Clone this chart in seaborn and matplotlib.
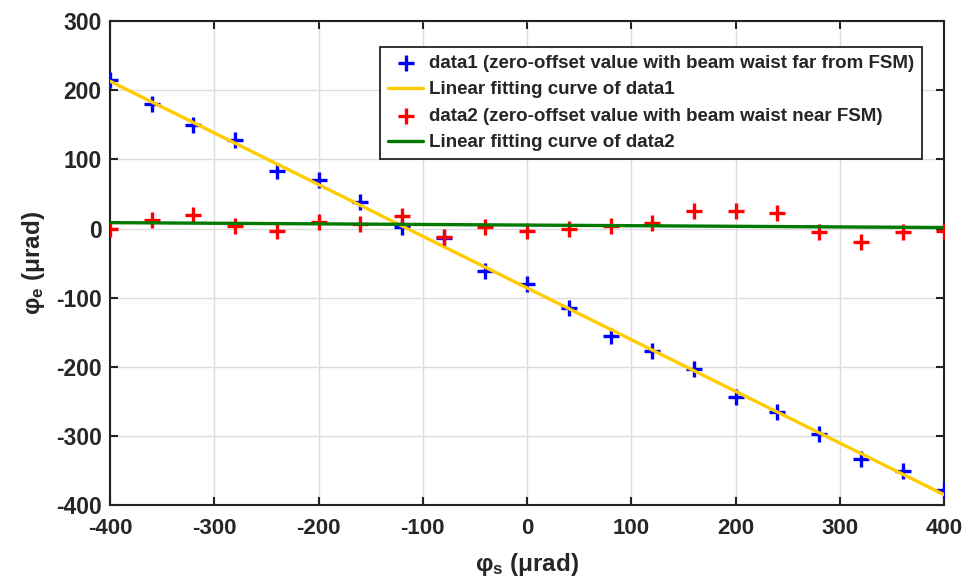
import numpy as np
import pandas as pd
import matplotlib
matplotlib.use("Agg")
import matplotlib.pyplot as plt
import seaborn as sns

# ---- data ----
phi_s = [-400, -360, -320, -280, -240, -200, -160, -120, -80, -40, 0,
         40, 80, 120, 160, 200, 240, 280, 320, 360, 400]
data1 = [215, 180, 150, 128, 83, 70, 38, 2, -14, -62, -80,
         -115, -155, -177, -203, -243, -265, -297, -333, -350, -378]
data2 = [0, 13, 20, 3, -3, 10, 7, 18, -12, 2, -3,
         0, 3, 8, 25, 25, 22, -5, -20, -5, -3]
labels = ["data1 (zero-offset value with beam waist far from FSM)",
          "Linear fitting curve of data1",
          "data2 (zero-offset value with beam waist near FSM)",
          "Linear fitting curve of data2"]
xticks = [-400, -300, -200, -100, 0, 100, 200, 300, 400]
yticks = [-400, -300, -200, -100, 0, 100, 200, 300]

sns.set_theme(style="whitegrid")
plt.rcParams['font.family'] = ['Liberation Sans', 'DejaVu Sans']
plt.rcParams['font.weight'] = 'bold'
plt.rcParams['axes.unicode_minus'] = False
plt.rcParams['mathtext.fontset'] = 'custom'
plt.rcParams['mathtext.rm'] = 'Liberation Sans:bold'
plt.rcParams['mathtext.it'] = 'Liberation Sans:bold'
plt.rcParams['mathtext.bf'] = 'Liberation Sans:bold'

x = np.array(phi_s, dtype=float)
p1 = np.polyfit(x, data1, 1)
p2 = np.polyfit(x, data2, 1)
df = pd.DataFrame({"x": x, "d1": data1, "d2": data2,
                   "f1": np.polyval(p1, x), "f2": np.polyval(p2, x)})

fig = plt.figure(figsize=(9.78, 5.86), dpi=100)
ax = fig.add_axes([0.1125, 0.138, 0.853, 0.826])

sns.scatterplot(data=df, x="x", y="d1", marker="+", s=130, color="#0000FF",
                linewidth=2.4, ax=ax, label=labels[0], zorder=3)
sns.lineplot(data=df, x="x", y="f1", color="#FFCC00", linewidth=2.4, ax=ax,
             label=labels[1], zorder=4)
sns.scatterplot(data=df, x="x", y="d2", marker="+", s=130, color="#FF0000",
                linewidth=2.4, ax=ax, label=labels[2], zorder=5)
sns.lineplot(data=df, x="x", y="f2", color="#007A00", linewidth=2.4, ax=ax,
             label=labels[3], zorder=6)

ax.set_xlim(-400, 400)
ax.set_ylim(-400, 300)
ax.set_xticks(xticks)
ax.set_yticks(yticks)
ax.grid(True, color="#DDDDDD", linewidth=1.0)
ax.set_facecolor("white")
for sp in ax.spines.values():
    sp.set_visible(True)
    sp.set_color("#222222")
    sp.set_linewidth(1.5)
ax.tick_params(direction="in", length=6, width=1.5, color="#222222",
               top=True, right=True, bottom=True, left=True)
ax.tick_params(axis="x", pad=9)
ax.tick_params(axis="y", pad=6)
for lab in ax.get_yticklabels():
    lab.set_fontsize(16.5)
    lab.set_fontweight("bold")
for lab in ax.get_xticklabels():
    lab.set_fontsize(16)
    lab.set_fontweight("bold")

ax.set_xlabel("φ$_\\mathrm{s}$ (μrad)", fontsize=17.5, fontweight="bold",
              labelpad=9)
ax.set_ylabel("φ$_\\mathrm{e}$ (μrad)", fontsize=17.5, fontweight="bold",
              labelpad=6)

leg = ax.legend(loc="upper right", bbox_to_anchor=(0.973, 0.946),
                prop={"weight": "bold", "size": 13.5}, frameon=True,
                fancybox=False, edgecolor="#222222", framealpha=1,
                handlelength=1.9, handletextpad=0.3, labelspacing=0.5,
                borderpad=0.4, borderaxespad=0, markerscale=1.0)
leg.get_frame().set_linewidth(1.3)

fig.savefig("out.png", dpi=100)
